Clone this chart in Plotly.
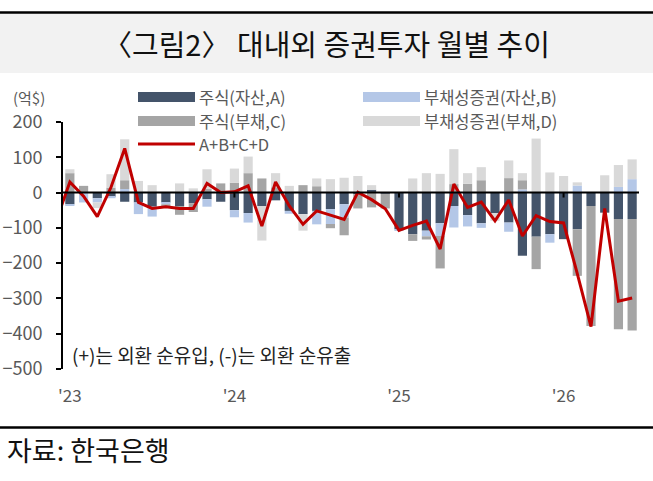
import plotly.graph_objects as go

# months: Dec 2022 (line only, clipped at the axis) then Jan 2023 .. Jun 2026
months = ["2022-12"] + [f"{y}-{m:02d}" for y in (2023, 2024, 2025, 2026) for m in range(1, 13)][:42]
bar_months = months[1:]

# 주식(자산,A)
stock_asset = [-33, 0, -16, -12, -26, -28, -40, -28, -38, -30, -19, -26,
               -50, -58, -38, -22, -52, -61, -52, -47, -33, -5, 8, -3,
               -104, -118, -108, -87, -38, -64, -87, -58, -85, -179, -125, -118,
               -132, -104, -38, -57, -75, -75]
# 부채성증권(자산,B)
debt_asset = [-4, -28, -12, -4, 10, -33, -28, -5, 0, 0, -21, 0,
              -20, -27, 0, 0, -8, 0, -38, -42, -38, 0, 0, 0,
              -4, 0, -16, -36, -61, -32, -13, 0, -26, 9, 0, -24,
              0, 20, 0, 0, 16, 38]
# 주식(부채,C)
stock_liab = [55, 19, 0, 14, 25, 0, 0, -7, -25, -25, 10, 26,
              28, 55, 40, 15, 0, 21, 18, -12, -50, -40, -42, -42,
              0, -19, -9, -92, 24, 25, 35, 0, 41, 26, -92, 0,
              0, -132, -340, 0, -312, -316]
# 부채성증권(부채,D)
debt_liab = [11, 0, -16, 38, 116, 33, 21, 0, 26, 12, 56, 0,
             40, 47, -98, 40, 19, -47, 22, 38, 42, 47, 13, 0,
             0, 40, 55, 53, 99, 30, 37, -22, 50, 20, 153, 57,
             47, 9, 0, 49, 62, 56]
# A+B+C+D (first value is Dec 2022)
total = [-80, 30, -10, -68, 15, 125, -28, -45, -40, -45, -45, 26, 0,
         2, 19, -95, 30, -38, -90, -52, -64, -76, 1, -20, -46,
         -107, -93, -81, -160, 24, -42, -27, -80, -21, -123, -65, -82,
         -86, -230, -380, -45, -308, -299]

year_ticks = ["2023-01", "2024-01", "2025-01", "2026-01"]
year_labels = ["'23", "'24", "'25", "'26"]

series = [
    ("주식(자산,A)", stock_asset, "#44546A"),
    ("부채성증권(자산,B)", debt_asset, "#B4C7E7"),
    ("주식(부채,C)", stock_liab, "#A5A5A5"),
    ("부채성증권(부채,D)", debt_liab, "#D9D9D9"),
]
line_name = "A+B+C+D"
line_color = "#C00000"

FONT = "Noto Sans CJK KR"
W, H = 653, 481
L, R, T, B = 63, 14, 122, 112
pw, ph = W - L - R, H - T - B


def px(x):
    return (x - L) / pw


def py(y):
    return (H - B - y) / ph


fig = go.Figure()
for name, vals, color in series:
    fig.add_trace(go.Bar(x=bar_months, y=vals, name=name, marker_color=color,
                         marker_line_width=0, showlegend=False))
fig.add_trace(go.Scatter(x=months, y=total, name=line_name, mode="lines",
                         line=dict(color=line_color, width=3), showlegend=False))

shapes = []
# title band
shapes.append(dict(type="rect", xref="paper", yref="paper", x0=px(0), x1=px(W),
                   y0=py(73), y1=py(13), fillcolor="#F2F2F2", line_width=0, layer="below"))
shapes.append(dict(type="line", xref="paper", yref="paper", x0=px(0), x1=px(W),
                   y0=py(12.5), y1=py(12.5), line=dict(color="black", width=2.5)))
# bottom rule
shapes.append(dict(type="line", xref="paper", yref="paper", x0=px(0), x1=px(W),
                   y0=py(427.5), y1=py(427.5), line=dict(color="black", width=2.5)))
# zero line over bars
shapes.append(dict(type="line", xref="paper", yref="y", x0=0, x1=1, y0=0, y1=0,
                   line=dict(color="black", width=2)))
# year boundary ticks on the zero line
for k in range(1, len(year_ticks)):
    xb = (12 * k + 0.5) / 42
    shapes.append(dict(type="line", xref="paper", yref="y", x0=xb, x1=xb, y0=0, y1=-14,
                       line=dict(color="black", width=2)))

annotations = []
# legend drawn by hand (long swatches like the original)
legend_items = [
    (series[0][0], series[0][2], "bar", 138, 97),
    (series[1][0], series[1][2], "bar", 363, 97),
    (series[2][0], series[2][2], "bar", 138, 121),
    (series[3][0], series[3][2], "bar", 363, 121),
    (line_name, line_color, "line", 138, 144),
]
for label, color, kind, lx, ly in legend_items:
    if kind == "bar":
        shapes.append(dict(type="rect", xref="paper", yref="paper", x0=px(lx), x1=px(lx + 57),
                           y0=py(ly + 5), y1=py(ly - 5), fillcolor=color, line_width=0))
    else:
        shapes.append(dict(type="line", xref="paper", yref="paper", x0=px(lx), x1=px(lx + 57),
                           y0=py(ly), y1=py(ly), line=dict(color=color, width=3)))
    annotations.append(dict(text=label, xref="paper", yref="paper", x=px(lx + 60), y=py(ly),
                            xanchor="left", yanchor="middle", showarrow=False, borderpad=0,
                            font=dict(family=FONT, size=16.5, color="#595959")))

annotations += [
    dict(text="〈그림2〉 대내외 증권투자 월별 추이", xref="paper", yref="paper",
         x=px(W / 2), y=py(43), xanchor="center", yanchor="middle", showarrow=False,
         font=dict(family=FONT, size=29, color="#111111")),
    dict(text="(억$)", xref="paper", yref="paper", x=px(12), y=py(97),
         xanchor="left", yanchor="middle", showarrow=False, borderpad=0,
         font=dict(family=FONT, size=15, color="#595959")),
    dict(text="(+)는 외환 순유입, (-)는 외환 순유출", xref="paper", yref="paper",
         x=px(70), y=py(354), xanchor="left", yanchor="middle", showarrow=False,
         font=dict(family=FONT, size=19, color="#222222")),
    dict(text="자료: 한국은행", xref="paper", yref="paper", x=px(5), y=py(449),
         xanchor="left", yanchor="middle", showarrow=False,
         font=dict(family=FONT, size=27, color="#111111")),
]

fig.update_layout(
    width=W, height=H,
    margin=dict(l=L, r=R, t=T, b=B),
    paper_bgcolor="white", plot_bgcolor="white",
    barmode="relative", bargap=0.33,
    font=dict(family=FONT, size=16, color="#595959"),
    shapes=shapes, annotations=annotations,
)
fig.update_xaxes(type="category", categoryorder="array", categoryarray=months,
                 range=[0.5, 42.5], showgrid=False, showline=False, zeroline=False,
                 automargin=False,
                 tickmode="array", tickvals=year_ticks, ticktext=year_labels,
                 ticks="outside", ticklen=12, tickcolor="rgba(0,0,0,0)",
                 tickfont=dict(family=FONT, size=17, color="#595959"))
fig.update_yaxes(range=[-500, 200], dtick=100, showgrid=False, zeroline=False,
                 automargin=False,
                 showline=True, linecolor="black", linewidth=2,
                 ticks="outside", ticklen=5, tickwidth=2, tickcolor="black",
                 ticklabelstandoff=10,
                 tickfont=dict(family=FONT, size=18, color="#595959"))

# page body has an 8px default margin; drop it so the figure fills the window
fig.write_html("out.html", config={"displayModeBar": False},
               post_script="document.body.style.margin='0px';")
